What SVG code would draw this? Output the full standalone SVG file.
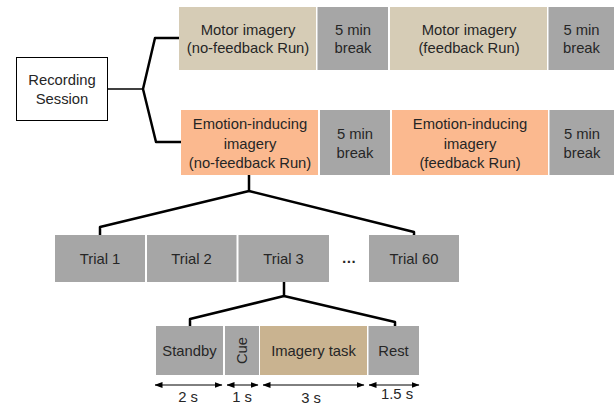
<svg xmlns="http://www.w3.org/2000/svg" width="614" height="406" viewBox="0 0 614 406">
<style>
text{font-family:"Liberation Sans",Arial,sans-serif;font-size:14.8px;fill:#262626;text-anchor:middle}
.gray{fill:#a6a6a6}
.tan{fill:#d6ccb6}
.sal{fill:#fbb98f}
.task{fill:#c9b390}
.con{fill:none;stroke:#000;stroke-width:2.5;stroke-linejoin:round}
.dim{stroke:#000;stroke-width:1;marker-start:url(#ah);marker-end:url(#ah)}
</style>
<defs>
<marker id="ah" viewBox="0 0 8 6" refX="7.5" refY="3" markerWidth="8" markerHeight="6" markerUnits="userSpaceOnUse" orient="auto-start-reverse">
<path d="M0,0 L8,3 L0,6 z" fill="#000"/>
</marker>
</defs>
<rect width="614" height="406" fill="#fff"/>
<g id="connectors">
<path class="con" d="M108,89 H143" style="stroke-width:1.5"/>
<path class="con" d="M180,38 H155 L143,89 L156,142 H181"/>
<path class="con" d="M249,175 V191 M100,236 V227 L249,191 L414,232 V236"/>
<path class="con" d="M284,282 V296 M190,326 V319 L284,296 L395,322 V326"/>
<line class="dim" x1="155" y1="385" x2="222" y2="385"/>
<line class="dim" x1="227" y1="385" x2="258" y2="385"/>
<line class="dim" x1="263" y1="385" x2="364" y2="385"/>
<line class="dim" x1="369" y1="385" x2="419" y2="385"/>
</g>
<g id="recording-session">
<rect x="16.5" y="57.5" width="91" height="63" fill="#fff" stroke="#000" stroke-width="1"/>
<text x="62" y="85">Recording</text>
<text x="62" y="104">Session</text>
</g>
<g id="motor-nofb">
<rect class="tan" x="179" y="7" width="137" height="63"/>
<text x="248" y="34.5">Motor imagery</text>
<text x="248" y="53">(no-feedback Run)</text>
</g>
<g id="break-1">
<rect class="gray" x="317.5" y="7" width="70.5" height="63"/>
<text x="353" y="34.5">5 min</text>
<text x="353" y="53">break</text>
</g>
<g id="motor-fb">
<rect class="tan" x="390" y="7" width="157" height="63"/>
<text x="469" y="34.5">Motor imagery</text>
<text x="469" y="53">(feedback Run)</text>
</g>
<g id="break-2">
<rect class="gray" x="548.5" y="7" width="66" height="63"/>
<text x="581.5" y="34.5">5 min</text>
<text x="581.5" y="53">break</text>
</g>
<g id="emotion-nofb">
<rect class="sal" x="181" y="110" width="137" height="65"/>
<text x="250" y="129">Emotion-inducing</text>
<text x="250" y="148.5">imagery</text>
<text x="250" y="168">(no-feedback Run)</text>
</g>
<g id="break-3">
<rect class="gray" x="320" y="110" width="70" height="65"/>
<text x="355" y="138.5">5 min</text>
<text x="355" y="158">break</text>
</g>
<g id="emotion-fb">
<rect class="sal" x="392" y="110" width="156" height="65"/>
<text x="470" y="129">Emotion-inducing</text>
<text x="470" y="148.5">imagery</text>
<text x="470" y="168">(feedback Run)</text>
</g>
<g id="break-4">
<rect class="gray" x="549.5" y="110" width="65" height="65"/>
<text x="582" y="138.5">5 min</text>
<text x="582" y="158">break</text>
</g>
<g id="trial-1"><rect class="gray" x="55" y="235" width="90" height="47"/><text x="100" y="264">Trial 1</text></g>
<g id="trial-2"><rect class="gray" x="147" y="235" width="89.5" height="47"/><text x="191.5" y="264">Trial 2</text></g>
<g id="trial-3"><rect class="gray" x="238.5" y="235" width="90.5" height="47"/><text x="283.5" y="264">Trial 3</text></g>
<g id="ellipsis"><text x="349" y="263" style="font-weight:bold">…</text></g>
<g id="trial-60"><rect class="gray" x="369" y="235" width="90" height="47"/><text x="414" y="264">Trial 60</text></g>
<g id="standby"><rect class="gray" x="156" y="326" width="67" height="49"/><text x="189.5" y="356">Standby</text></g>
<g id="cue"><rect class="gray" x="225" y="326" width="34" height="49"/><text transform="translate(247 350.5) rotate(-90)">Cue</text></g>
<g id="imagery-task"><rect class="task" x="260" y="326" width="107" height="49"/><text x="313.5" y="356">Imagery task</text></g>
<g id="rest"><rect class="gray" x="368.5" y="326" width="50.5" height="49"/><text x="393.5" y="356">Rest</text></g>
<g id="durations">
<text x="188" y="402">2 s</text>
<text x="242" y="402">1 s</text>
<text x="311" y="402.5">3 s</text>
<text x="397" y="399">1.5 s</text>
</g>
</svg>
